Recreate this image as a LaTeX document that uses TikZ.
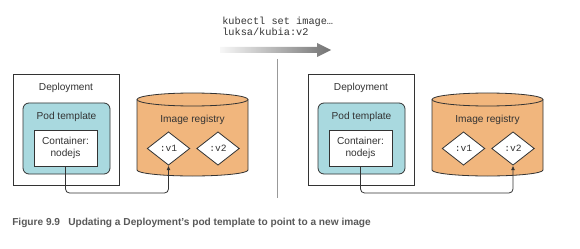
\documentclass[tikz,border=0pt]{standalone}
\usepackage{fontspec}
\setmainfont{Liberation Sans}
\setmonofont{Liberation Mono}
\newfontfamily\capfont{Liberation Sans}
\usetikzlibrary{shapes.geometric,arrows.meta}
\definecolor{podfill}{HTML}{A9D9DF}
\definecolor{regfill}{HTML}{F1B67D}
\definecolor{linec}{HTML}{333333}
\definecolor{capc}{HTML}{595959}

% One registry panel: #1 = horizontal offset, #2 = name prefix, #3 = tag the container uses
\newcommand\regpanel[3]{%
  \node[box, minimum width=79.5pt, minimum height=83.25pt] (#2dep) at ({#1+66},129.5) {};
  \node (#2deplabel) at ({#1+66},88) {Deployment};
  \node[podbox, minimum width=65.25pt, minimum height=53.25pt] (#2pod) at ({#1+66.5},138.5) {};
  \node (#2podlabel) at ({#1+66.5},117) {Pod template};
  \node[box, minimum width=47.25pt, minimum height=27pt, align=center] (#2cont) at ({#1+65.5},148) {Container:\\nodejs};
  % image registry drum
  \draw[draw=linec, line width=0.6pt, fill=regfill]
    ({#1+137},99.5) -- ({#1+137},170)
    arc[start angle=180, end angle=0, x radius=55.5, y radius=6]
    -- ({#1+248},99.5)
    arc[start angle=0, end angle=-180, x radius=55.5, y radius=6.5] -- cycle;
  \draw[draw=linec, line width=0.6pt]
    ({#1+137},99.5) arc[start angle=180, end angle=0, x radius=55.5, y radius=6.5];
  \node (#2reglabel) at ({#1+192.5},120) {Image registry};
  \node[tag] (#2v1) at ({#1+168.5},148.5) {:v1};
  \node[tag] (#2v2) at ({#1+218},148.5) {:v2};
  \coordinate (#2low) at ({#1},193);
  \draw[link] (#2cont.south) -- (#2cont.south |- #2low) -- (#2#3.south |- #2low) -- (#2#3.south);
}

\begin{document}
\begin{tikzpicture}[x=0.75pt, y=-0.75pt,
  every node/.style={font=\fontsize{7.6}{9}\selectfont, text=linec},
  box/.style={draw=linec, line width=0.6pt, fill=white, inner sep=0pt},
  podbox/.style={draw=linec, line width=0.6pt, fill=podfill, rounded corners=4.5pt, inner sep=0pt},
  tag/.style={diamond, draw=linec, line width=0.6pt, fill=white, inner sep=0pt,
    minimum width=32pt, minimum height=25pt, font=\ttfamily\fontsize{7.2}{9}\selectfont},
  link/.style={draw=linec, line width=0.6pt, rounded corners=3pt, -{Latex[length=3.5pt, width=3pt]}},
  cmd/.style={anchor=west, inner sep=0pt, font=\ttfamily\fontsize{7.7}{9}\selectfont},
  caption/.style={anchor=west, inner sep=0pt, text=capc, font=\capfont\bfseries\fontsize{7.6}{9}\selectfont}
]
\useasboundingbox (0,0) rectangle (580,249);

% command and transition arrow
\node[cmd] (cmd1) at (222,22) {kubectl set image…};
\node[cmd] (cmd2) at (222,32) {luksa/kubia:v2};
\shade[left color=gray!6, right color=black!55]
  (220,47) -- (317,47) -- (317,43) -- (331,50) -- (317,57) -- (317,53) -- (220,53) -- cycle;

% divider between before and after
\coordinate (divtop) at (277,59);
\coordinate (divbot) at (277,198);
\draw[draw=black!40, line width=0.75pt] (divtop) -- (divbot);

% before: container points at :v1; after: at :v2
\regpanel{0}{a}{v1}
\regpanel{295}{b}{v2}

% caption
\node[caption] (fignum) at (12,223) {Figure 9.9};
\node[caption] (figtext) at (68,223) {Updating a Deployment’s pod template to point to a new image};
\end{tikzpicture}
\end{document}
